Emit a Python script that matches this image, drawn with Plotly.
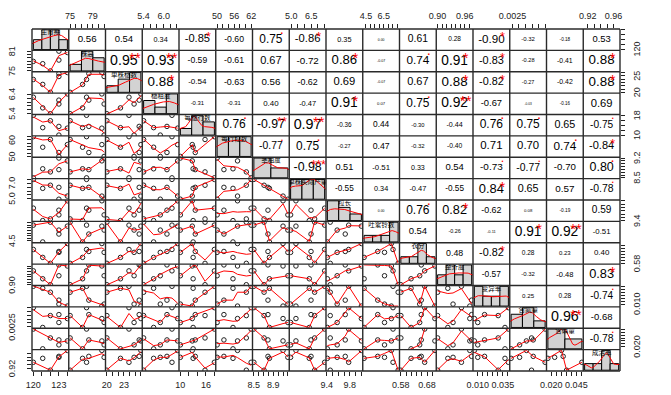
import numpy as np
import plotly.graph_objects as go

names = ["生育期", "株高", "单株穗数", "穗粗度", "每穗行数", "每行粒数", "茎粗度", "单株实际产量",
         "粒长", "吐絮铃数", "衣分", "整齐度", "变异率", "含氮量", "含磷量", "成活率"]

v01 = [120.0, 121.1, 122.0, 123.0, 123.0, 124.0]
v02 = [77.9, 77.2, 75.0, 78.3, 81.0, 80.6]
v03 = [23.9, 22.4, 20.0, 25.7, 24.8, 26.0]
v04 = [6.25, 5.70, 5.40, 6.10, 5.90, 6.42]
v05 = [18.0, 13.0, 15.8, 13.5, 10.0, 12.8]
v06 = [62.0, 55.6, 60.3, 52.4, 50.0, 57.2]
v07 = [8.50, 8.82, 8.71, 8.79, 9.20, 9.10]
v08 = [7.50, 6.35, 6.75, 6.48, 4.95, 5.35]
v09 = [9.78, 9.41, 9.46, 9.72, 9.58, 10.0]
v10 = [7.53, 4.30, 8.10, 5.82, 6.58, 7.34]
v11 = [0.671, 0.619, 0.580, 0.658, 0.652, 0.710]
v12 = [0.9525, 0.9225, 0.900, 0.975, 0.934, 0.971]
v13 = [0.0405, 0.0371, 0.0303, 0.0167, 0.0099, 0.0065]
v14 = [0.0050, 0.0024, 0.00396, 0.00409, 0.00305, 0.00357]
v15 = [0.0505, 0.0165, 0.0352, 0.0318, 0.0233, 0.0301]
v16 = [0.9362, 0.9468, 0.9150, 0.9521, 0.9495, 0.9680]

hist_bins = [4, 3, 3, 3, 3, 3, 2, 3, 3, 4, 4, 4, 4, 3, 2, 4]

# correlation coefficients printed in the upper panels (row i, columns i+1..16)
cor_r01 = [0.56, 0.54, 0.34, -0.85, -0.60, 0.75, -0.86, 0.35, 0.00, 0.61, 0.28, -0.90, -0.32, -0.18, 0.53]
cor_r02 = [0.95, 0.93, -0.59, -0.61, 0.67, -0.72, 0.86, -0.07, 0.74, 0.91, -0.83, -0.28, -0.41, 0.88]
cor_r03 = [0.88, -0.54, -0.63, 0.56, -0.62, 0.69, -0.07, 0.67, 0.88, -0.82, -0.27, -0.42, 0.88]
cor_r04 = [-0.31, -0.31, 0.40, -0.47, 0.91, 0.07, 0.75, 0.92, -0.67, -0.03, -0.16, 0.69]
cor_r05 = [0.76, -0.97, 0.97, -0.36, 0.44, -0.30, -0.44, 0.76, 0.75, 0.65, -0.75]
cor_r06 = [-0.77, 0.75, -0.27, 0.47, -0.32, -0.40, 0.71, 0.70, 0.74, -0.84]
cor_r07 = [-0.98, 0.51, -0.51, 0.33, 0.54, -0.73, -0.77, -0.70, 0.80]
cor_r08 = [-0.55, 0.34, -0.47, -0.55, 0.84, 0.65, 0.57, -0.78]
cor_r09 = [0.00, 0.76, 0.82, -0.62, 0.08, -0.19, 0.59]
cor_r10 = [0.54, -0.26, -0.11, 0.91, 0.92, -0.51]
cor_r11 = [0.48, -0.82, 0.28, 0.23, 0.40]
cor_r12 = [-0.57, -0.32, -0.48, 0.83]
cor_r13 = [0.25, 0.28, -0.74]
cor_r14 = [0.96, -0.68]
cor_r15 = [-0.78]

# axis ticks per variable, and which of them carry a label on the x side / y side
tick_vals = [
    [120, 121, 122, 123, 124],
    [75, 76, 77, 78, 79, 80, 81],
    [20, 21, 22, 23, 24, 25, 26],
    [5.4, 5.6, 5.8, 6.0, 6.2, 6.4],
    [10, 12, 14, 16, 18],
    [50, 52, 54, 56, 58, 60, 62],
    [8.5, 8.6, 8.7, 8.8, 8.9, 9.0, 9.1, 9.2],
    [5.0, 5.5, 6.0, 6.5, 7.0, 7.5],
    [9.4, 9.5, 9.6, 9.7, 9.8, 9.9, 10.0],
    [4.5, 5.0, 5.5, 6.0, 6.5, 7.0, 7.5, 8.0],
    [0.58, 0.60, 0.62, 0.64, 0.66, 0.68, 0.70],
    [0.90, 0.91, 0.92, 0.93, 0.94, 0.95, 0.96, 0.97],
    [0.010, 0.015, 0.020, 0.025, 0.030, 0.035, 0.040],
    [0.0025, 0.0030, 0.0035, 0.0040, 0.0045, 0.0050],
    [0.020, 0.025, 0.030, 0.035, 0.040, 0.045, 0.050],
    [0.92, 0.93, 0.94, 0.95, 0.96],
]
x_labelled = [[120, 123], [75, 79], [20, 23], [5.4, 6.0], [10, 16], [50, 56, 62], [8.5, 8.9], [5.0, 6.5],
              [9.4, 9.8], [4.5, 6.5], [0.58, 0.68], [0.90, 0.96], [0.010, 0.035], [0.0025], [0.020, 0.045],
              [0.92, 0.96]]
y_labelled = [[120], [75, 81], [20, 25], [5.4, 6.4], [10, 18], [50, 60], [8.5, 9.2], [5.0, 7.0],
              [9.4], [4.5], [0.58], [0.90], [0.010], [0.0025], [0.020], [0.92]]
decimals = [0, 0, 0, 1, 0, 0, 1, 1, 1, 1, 2, 2, 3, 4, 3, 2]

data = [np.array(v, float) for v in (v01, v02, v03, v04, v05, v06, v07, v08,
                                      v09, v10, v11, v12, v13, v14, v15, v16)]
cor_rows = [cor_r01, cor_r02, cor_r03, cor_r04, cor_r05, cor_r06, cor_r07, cor_r08,
            cor_r09, cor_r10, cor_r11, cor_r12, cor_r13, cor_r14, cor_r15]
NV = 16
FONT = "Liberation Sans, Arial, sans-serif"


# ---------------- helpers (R-like computations) ----------------
def lowess(x, y, f=2 / 3, iters=3):
    x = np.asarray(x, float); y = np.asarray(y, float)
    o = np.argsort(x, kind="mergesort")
    x = x[o]; y = y[o]
    n = len(x)
    ns = max(min(int(f * n + 1e-7), n), 2)
    rng = x[-1] - x[0]
    rw = np.ones(n)
    ys = np.zeros(n)

    def lowest(xs, nleft, nright, userw):
        h = max(xs - x[nleft], x[nright] - xs)
        h9, h1 = 0.999 * h, 0.001 * h
        w = np.zeros(n)
        a = 0.0
        j = nleft
        while j < n:
            r = abs(x[j] - xs)
            if r <= h9:
                w[j] = 1.0 if r <= h1 else (1 - (r / h) ** 3) ** 3
                if userw:
                    w[j] *= rw[j]
                a += w[j]
            elif x[j] > xs:
                break
            j += 1
        nrt = j - 1
        if a <= 0:
            return None
        w[nleft:nrt + 1] /= a
        if h > 0:
            aa = np.sum(w[nleft:nrt + 1] * x[nleft:nrt + 1])
            b = xs - aa
            c = np.sum(w[nleft:nrt + 1] * (x[nleft:nrt + 1] - aa) ** 2)
            if np.sqrt(c) > 0.001 * rng:
                b /= c
                w[nleft:nrt + 1] *= (b * (x[nleft:nrt + 1] - aa) + 1)
        return np.sum(w[nleft:nrt + 1] * y[nleft:nrt + 1])

    for it in range(iters + 1):
        nleft, nright = 0, ns - 1
        for i in range(n):
            if i > 0 and x[i] == x[i - 1]:
                ys[i] = ys[i - 1]
                continue
            while nright < n - 1:
                if x[i] - x[nleft] <= x[nright + 1] - x[i]:
                    break
                nleft += 1; nright += 1
            v = lowest(x[i], nleft, nright, it > 0)
            ys[i] = y[i] if v is None else v
        if it == iters:
            break
        res = np.abs(y - ys)
        sc = res.mean()
        cmad = 6 * np.median(res)
        if cmad < 1e-7 * sc or cmad == 0:
            break
        c9, c1 = 0.999 * cmad, 0.001 * cmad
        rw = np.where(res <= c1, 1.0, np.where(res <= c9, (1 - (res / cmad) ** 2) ** 2, 0.0))
    return x, ys


def bw_nrd0(x):
    hi = np.std(x, ddof=1)
    q75, q25 = np.percentile(x, [75, 25])
    lo = min(hi, (q75 - q25) / 1.34)
    if lo <= 0:
        lo = hi if hi > 0 else 1.0
    return 0.9 * lo * len(x) ** (-0.2)


def kde(x):
    bw = bw_nrd0(x)
    g = np.linspace(x.min() - 3 * bw, x.max() + 3 * bw, 512)
    d = np.exp(-0.5 * ((g[:, None] - x[None, :]) / bw) ** 2).sum(1) / (len(x) * bw * np.sqrt(2 * np.pi))
    return g, d


def hist_right_closed(x, nb):
    edges = np.linspace(x.min(), x.max(), nb + 1)
    counts = np.zeros(nb)
    for v in x:
        k = int(np.searchsorted(edges, v, side="left")) - 1
        k = min(max(k, 0), nb - 1)
        counts[k] += 1
    dens = counts / (len(x) * (edges[1] - edges[0]))
    return edges, dens


def pad(lo, hi):
    d = hi - lo
    return [lo - 0.04 * d, hi + 0.04 * d]


def em_width(s):
    w = 0.0
    for ch in s:
        w += 0.278 if ch == "." else (0.333 if ch == "-" else 0.556)
    return w


def p_value(r):  # two-sided test of Pearson r with n = 6 (df = 4)
    a = abs(r)
    return max(0.0, 1 - a * (1 + (1 - a * a) / 2))


def signif(p):
    if p < 0.001: return "***"
    if p < 0.01: return "**"
    if p < 0.05: return "*"
    if p < 0.1: return "."
    return ""


def fmt(v, d):
    return f"{v:.{d}f}"


# ---------------- figure ----------------
W, H = 671, 395
ML, MR, MT, MB = 32, 51, 29, 24
PW, PH = W - ML - MR, H - MT - MB
cw, ch = PW / NV, PH / NV

fig = go.Figure()
layout = dict(width=W, height=H, margin=dict(l=ML, r=MR, t=MT, b=MB, pad=0, autoexpand=False),
              paper_bgcolor="white", plot_bgcolor="white", showlegend=False,
              font=dict(family=FONT, color="#222"))

ranges = [pad(d.min(), d.max()) for d in data]
annotations = []


def tick_cfg(var, labelled, side, show_labels=True):
    tv = tick_vals[var]
    tt = [fmt(v, decimals[var]) if any(abs(v - L) < 1e-9 for L in labelled) else "" for v in tv]
    return dict(tickmode="array", tickvals=tv, ticktext=tt, ticks="outside", ticklen=4,
                tickwidth=1, tickcolor="#222", showticklabels=show_labels,
                tickfont=dict(size=9, color="#222", family=FONT), side=side)


def side_labels(var, yref, xpaper, xshift):
    for v in y_labelled[var]:
        annotations.append(dict(x=xpaper, y=v, xref="paper", yref=yref, text=fmt(v, decimals[var]),
                                showarrow=False, textangle=-90, xanchor="center", yanchor="middle",
                                xshift=xshift, font=dict(size=9, color="#222", family=FONT)))


for i in range(NV):
    for j in range(NV):
        k = i * NV + j + 1
        xs = "x" if k == 1 else f"x{k}"
        ysn = "y" if k == 1 else f"y{k}"
        xr, yr = ranges[j], ranges[i]
        if i > j:
            fig.add_trace(go.Scatter(x=data[j], y=data[i], xaxis=xs, yaxis=ysn, mode="markers",
                                     marker=dict(symbol="circle-open", size=4.5, color="#222",
                                                 line=dict(width=1, color="#222")),
                                     hoverinfo="skip"))
            lx, ly = lowess(data[j], data[i])
            fig.add_trace(go.Scatter(x=lx, y=ly, xaxis=xs, yaxis=ysn, mode="lines",
                                     line=dict(color="red", width=1), hoverinfo="skip"))
        elif i == j:
            edges, dens = hist_right_closed(data[i], hist_bins[i])
            centers = (edges[:-1] + edges[1:]) / 2
            bwid = edges[1] - edges[0]
            fig.add_trace(go.Bar(x=centers, y=dens, width=[bwid] * len(centers), xaxis=xs, yaxis=ysn,
                                 marker=dict(color="#D3D3D3", line=dict(color="black", width=1)),
                                 hoverinfo="skip"))
            gx, gd = kde(data[i])
            fig.add_trace(go.Scatter(x=gx, y=gd, xaxis=xs, yaxis=ysn, mode="lines",
                                     line=dict(color="red", width=1), hoverinfo="skip"))
            m = dens.max()
            xr = pad(edges[0], edges[-1])
            yr = [-0.04 * m, 1.04 * m]
            fig.add_trace(go.Scatter(x=[(xr[0] + xr[1]) / 2], y=[yr[0] + 0.833 * (yr[1] - yr[0])],
                                     xaxis=xs, yaxis=ysn, mode="text", text=[names[i]],
                                     textposition="middle center",
                                     textfont=dict(size=6.5, color="black", family="Noto Sans CJK SC"),
                                     hoverinfo="skip"))
        else:
            r = cor_rows[i][j - i - 1]
            txt = fmt(r, 2)
            base = 0.78 * cw / em_width(txt)
            fs = base * (abs(r) + 0.3) / 1.3
            fig.add_trace(go.Scatter(x=[(xr[0] + xr[1]) / 2], y=[(yr[0] + yr[1]) / 2],
                                     xaxis=xs, yaxis=ysn, mode="text", text=[txt],
                                     textposition="middle center",
                                     textfont=dict(size=fs, color="black", family=FONT),
                                     hoverinfo="skip", cliponaxis=False))
            s = signif(p_value(r))
            if s:
                if s == ".":
                    yf = 0.78 + 0.25 * base / ch
                else:
                    yf = 0.76 - 0.28 * base / ch
                fig.add_trace(go.Scatter(x=[xr[0] + 0.8 * (xr[1] - xr[0])],
                                         y=[yr[0] + yf * (yr[1] - yr[0])],
                                         xaxis=xs, yaxis=ysn, mode="text", text=[s],
                                         textposition="middle center",
                                         textfont=dict(size=base, color="red", family=FONT),
                                         hoverinfo="skip", cliponaxis=False))

        common = dict(showgrid=False, zeroline=False, showline=False, ticks="", showticklabels=False,
                      fixedrange=True, automargin=False)
        xd = dict(common, domain=[j / NV, (j + 1) / NV], anchor=ysn, range=xr)
        yd = dict(common, domain=[1 - (i + 1) / NV, 1 - i / NV], anchor=xs, range=yr)

        if i == NV - 1 and j % 2 == 0:
            xd.update(tick_cfg(j, x_labelled[j], "bottom"), ticklabelstandoff=1)
        if i == 0 and j % 2 == 1:
            xd.update(tick_cfg(j, x_labelled[j], "top"), ticklabelstandoff=1)
        if j == 0 and i % 2 == 1:
            yd.update(tick_cfg(i, y_labelled[i], "left", show_labels=False))
            side_labels(i, ysn, 0, -20)
        if j == NV - 1 and i % 2 == 0:
            yd.update(tick_cfg(i, y_labelled[i], "right", show_labels=False))
            side_labels(i, ysn, 1, 17)

        layout["xaxis" if k == 1 else f"xaxis{k}"] = xd
        layout["yaxis" if k == 1 else f"yaxis{k}"] = yd

# panel borders (gap = 0 between panels)
shapes = []
for q in range(NV + 1):
    shapes.append(dict(type="line", xref="paper", yref="paper", x0=q / NV, x1=q / NV, y0=0, y1=1,
                       line=dict(color="#2a2a2a", width=1.4)))
    shapes.append(dict(type="line", xref="paper", yref="paper", x0=0, x1=1, y0=q / NV, y1=q / NV,
                       line=dict(color="#2a2a2a", width=1.4)))
layout["shapes"] = shapes
layout["annotations"] = annotations
layout["bargap"] = 0
fig.update_layout(**layout)
fig.write_html("out.html", config={"displayModeBar": False, "staticPlot": True},
               post_script="document.body.style.margin='0px';document.body.style.overflow='hidden';")
